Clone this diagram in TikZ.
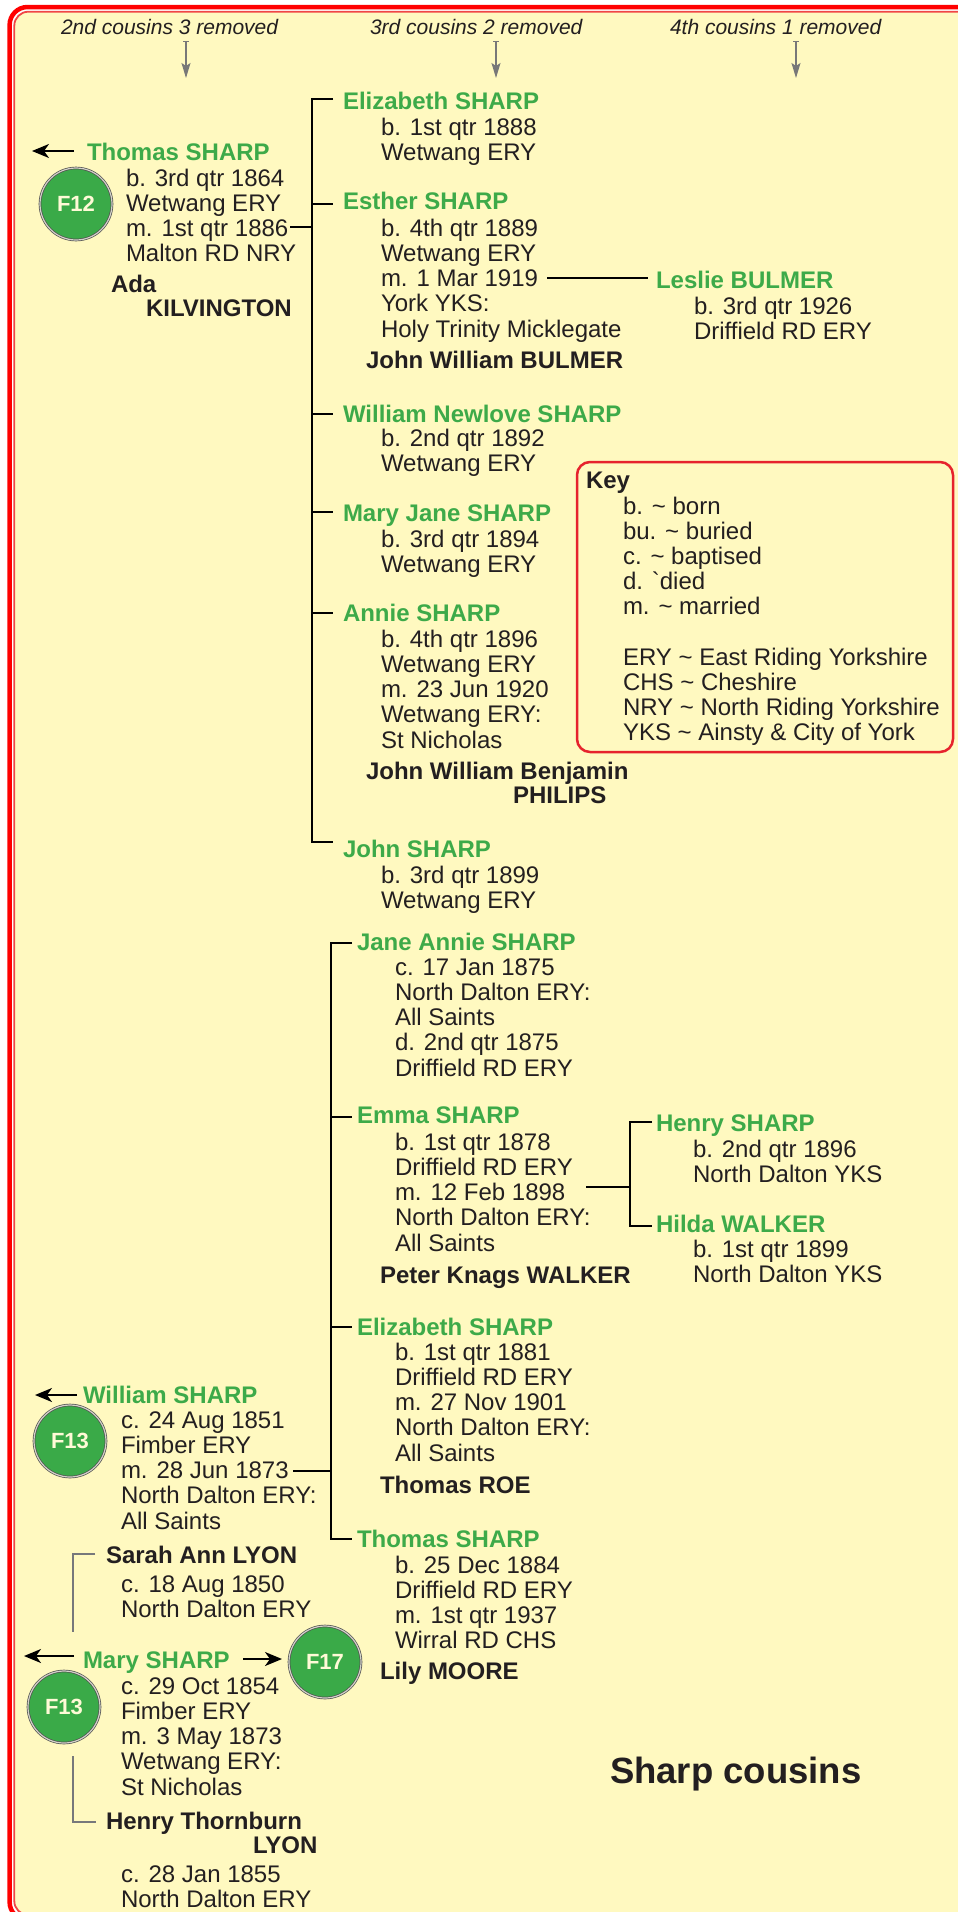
\documentclass[tikz,border=0pt]{standalone}
\usepackage{fontspec}
\setmainfont{Liberation Sans}
\usetikzlibrary{arrows.meta}
\definecolor{bgyellow}{RGB}{255,249,192}
\definecolor{framered}{RGB}{255,0,0}
\definecolor{framered2}{RGB}{240,70,70}
\definecolor{keyred}{RGB}{230,35,45}
\definecolor{namegreen}{RGB}{61,170,73}
\definecolor{circgreen}{RGB}{58,170,72}
\definecolor{circtext}{RGB}{255,250,215}
\definecolor{darktext}{RGB}{35,31,32}
\definecolor{hdrgray}{RGB}{120,120,120}
\definecolor{brgray}{RGB}{119,120,123}
\definecolor{ringgray}{RGB}{80,80,80}
\definecolor{ringlight}{RGB}{210,210,200}
\newcommand{\txtrows}[1]{\begin{tabular}[t]{@{}l@{}}#1\end{tabular}}
\begin{document}
\begin{tikzpicture}[x=1pt,y=-1pt,
  every node/.style={inner sep=0pt, outer sep=0pt, anchor=base west, text=darktext, font=\fontsize{24}{25.3}\selectfont},
  pname/.style={font=\bfseries\fontsize{24}{25.3}\selectfont, text=namegreen},
  spouse/.style={font=\bfseries\fontsize{24}{24}\selectfont, text=darktext},
  hdr/.style={font=\itshape\fontsize{21}{24}\selectfont, text=darktext},
  conn/.style={line width=2.6pt, black},
  brk/.style={line width=2pt, brgray},
  parr/.style={line width=1.9pt, black, -{Stealth[length=17pt,width=14pt,inset=5pt]}},
  harr/.style={line width=1.1pt, hdrgray, {Bar[width=6pt,line width=1.1pt]}-{Stealth[length=15pt,width=9pt,inset=3pt]}},
  fcirc/.style={circle, anchor=center, fill=circgreen, draw=ringgray, line width=0.7pt, double=ringlight, double distance=1.2pt, minimum size=72pt, text=circtext, font=\bfseries\fontsize{22}{22}\selectfont},
  keybox/.style={draw=keyred, line width=2.5pt, rounded corners=13pt, anchor=north west, minimum width=376pt, minimum height=290pt}
]
\useasboundingbox (0,0) rectangle (958,1912);
\fill[white] (0,0) rectangle (958,1912);
\begin{scope}
\clip (0,0) rectangle (958,1912);
\fill[bgyellow, rounded corners=14pt] (14.3,11.7) rectangle (975,1915);
\draw[framered, line width=4.5pt, rounded corners=18pt] (9.6,7) rectangle (980,1920);
\draw[framered2, line width=1.8pt, rounded corners=14pt] (14.3,11.7) rectangle (975,1915);
\end{scope}

% headers
\node[hdr] (h1) at (61,34.5) {2nd cousins 3 removed};
\node[hdr] (h2) at (370,34.5) {3rd cousins 2 removed};
\node[hdr] (h3) at (670,34.5) {4th cousins 1 removed};
\coordinate (h1s) at (186,41); \coordinate (h1e) at (186,78);
\coordinate (h2s) at (496,41); \coordinate (h2e) at (496,78);
\coordinate (h3s) at (796,41); \coordinate (h3e) at (796,78);
\draw[harr] (h1s) -- (h1e);
\draw[harr] (h2s) -- (h2e);
\draw[harr] (h3s) -- (h3e);

% ---------- Family 1: Thomas SHARP ----------
\node[pname] (thomas) at (87,160) {Thomas SHARP};
\coordinate (thA) at (74,151); \coordinate (thB) at (32,151);
\draw[parr] (thA) -- (thB);
\node[fcirc] (f12) at (76,204) {F12};
\node (thomasd) at (126,186) {\txtrows{b. 3rd qtr 1864\\Wetwang ERY\\m. 1st qtr 1886\\Malton RD NRY}};
\node[spouse] (ada) at (111,292) {\txtrows{Ada\\\hspace*{35pt}KILVINGTON}};

\coordinate (m1a) at (290,227); \coordinate (m1b) at (312,227);
\draw[conn] (m1a) -- (m1b);
\coordinate (v1top) at (312,99); \coordinate (v1bot) at (312,842);
\coordinate (t1a) at (333,99); \coordinate (t1f) at (333,842);
\draw[conn] (t1a) -- (v1top) -- (v1bot) -- (t1f);
\coordinate (v1b) at (312,204); \coordinate (t1b) at (333,204);
\coordinate (v1c) at (312,414); \coordinate (t1c) at (333,414);
\coordinate (v1d) at (312,512); \coordinate (t1d) at (333,512);
\coordinate (v1e) at (312,613); \coordinate (t1e) at (333,613);
\draw[conn] (v1b) -- (t1b);
\draw[conn] (v1c) -- (t1c);
\draw[conn] (v1d) -- (t1d);
\draw[conn] (v1e) -- (t1e);

\node[pname] (eliz1) at (343,109) {Elizabeth SHARP};
\node (eliz1d) at (381,135) {\txtrows{b. 1st qtr 1888\\Wetwang ERY}};

\node[pname] (esther) at (343,209) {Esther SHARP};
\node (estherd) at (381,236) {\txtrows{b. 4th qtr 1889\\Wetwang ERY\\m. 1 Mar 1919\\York YKS:\\Holy Trinity Micklegate}};
\node[spouse] (jwbulmer) at (366,368) {John William BULMER};
\coordinate (m2a) at (547,278); \coordinate (m2b) at (648,278);
\draw[conn] (m2a) -- (m2b);
\node[pname] (leslie) at (656,288) {Leslie BULMER};
\node (leslied) at (694,314) {\txtrows{b. 3rd qtr 1926\\Driffield RD ERY}};

\node[pname] (wnewlove) at (343,422) {William Newlove SHARP};
\node (wnewloved) at (381,446) {\txtrows{b. 2nd qtr 1892\\Wetwang ERY}};

\node[pname] (maryjane) at (343,521) {Mary Jane SHARP};
\node (maryjaned) at (381,547) {\txtrows{b. 3rd qtr 1894\\Wetwang ERY}};

\node[pname] (annie) at (343,621) {Annie SHARP};
\node (annied) at (381,647) {\txtrows{b. 4th qtr 1896\\Wetwang ERY\\m. 23 Jun 1920\\Wetwang ERY:\\St Nicholas}};
\node[spouse] (philips) at (366,779.5) {\txtrows{John William Benjamin\\\hspace*{147pt}PHILIPS}};

\node[pname] (john) at (343,857) {John SHARP};
\node (johnd) at (381,883) {\txtrows{b. 3rd qtr 1899\\Wetwang ERY}};

% ---------- Key ----------
\node[keybox] (key) at (577,462) {};
\node[font=\bfseries\fontsize{24}{25.2}\selectfont] (keyt) at (586,488) {Key};
\node[font=\fontsize{24}{25.2}\selectfont] (keyd) at (623,514) {\txtrows{b. \textasciitilde{} born\\bu. \textasciitilde{} buried\\c. \textasciitilde{} baptised\\d. \textasciigrave died\\m. \textasciitilde{} married\\\mbox{}\\ERY \textasciitilde{} East Riding Yorkshire\\CHS \textasciitilde{} Cheshire\\NRY \textasciitilde{} North Riding Yorkshire\\YKS \textasciitilde{} Ainsty \& City of York}};

% ---------- Family 2: William SHARP ----------
\node[pname] (william) at (83,1403) {William SHARP};
\coordinate (wA) at (77,1395); \coordinate (wB) at (35,1395);
\draw[parr] (wA) -- (wB);
\node[fcirc] (f13a) at (70,1441) {F13};
\node (williamd) at (121,1428) {\txtrows{c. 24 Aug 1851\\Fimber ERY\\m. 28 Jun 1873\\North Dalton ERY:\\All Saints}};
\coordinate (m3a) at (293,1471); \coordinate (m3b) at (331,1471);
\draw[conn] (m3a) -- (m3b);

\coordinate (v2top) at (331,943); \coordinate (v2bot) at (331,1539);
\coordinate (t2a) at (352,943); \coordinate (t2d) at (352,1539);
\draw[conn] (t2a) -- (v2top) -- (v2bot) -- (t2d);
\coordinate (v2b) at (331,1117); \coordinate (t2b) at (352,1117);
\coordinate (v2c) at (331,1327); \coordinate (t2c) at (352,1327);
\draw[conn] (v2b) -- (t2b);
\draw[conn] (v2c) -- (t2c);

\node[pname] (janeannie) at (357,950) {Jane Annie SHARP};
\node (janeannied) at (395,975) {\txtrows{c. 17 Jan 1875\\North Dalton ERY:\\All Saints\\d. 2nd qtr 1875\\Driffield RD ERY}};

\node[pname] (emma) at (357,1123) {Emma SHARP};
\node (emmad) at (395,1150) {\txtrows{b. 1st qtr 1878\\Driffield RD ERY\\m. 12 Feb 1898\\North Dalton ERY:\\All Saints}};
\node[spouse] (peter) at (380,1283) {Peter Knags WALKER};
\coordinate (m4a) at (586,1187); \coordinate (m4b) at (630,1187);
\draw[conn] (m4a) -- (m4b);
\coordinate (v3top) at (630,1122); \coordinate (v3bot) at (630,1226);
\coordinate (t3a) at (652,1122); \coordinate (t3b) at (652,1226);
\draw[conn] (t3a) -- (v3top) -- (v3bot) -- (t3b);
\node[pname] (henry) at (656,1131) {Henry SHARP};
\node (henryd) at (693,1157) {\txtrows{b. 2nd qtr 1896\\North Dalton YKS}};
\node[pname] (hilda) at (656,1232) {Hilda WALKER};
\node (hildad) at (693,1257) {\txtrows{b. 1st qtr 1899\\North Dalton YKS}};

\node[pname] (eliz2) at (357,1335) {Elizabeth SHARP};
\node (eliz2d) at (395,1360) {\txtrows{b. 1st qtr 1881\\Driffield RD ERY\\m. 27 Nov 1901\\North Dalton ERY:\\All Saints}};
\node[spouse] (roe) at (380,1493) {Thomas ROE};

\node[pname] (thomas2) at (357,1547) {Thomas SHARP};
\node (thomas2d) at (395,1573) {\txtrows{b. 25 Dec 1884\\Driffield RD ERY\\m. 1st qtr 1937\\Wirral RD CHS}};
\node[spouse] (lily) at (380,1679) {Lily MOORE};

% ---------- Mary SHARP and parents ----------
\node[spouse] (sarah) at (106,1563) {Sarah Ann LYON};
\node (sarahd) at (121,1592) {\txtrows{c. 18 Aug 1850\\North Dalton ERY}};
\coordinate (b1a) at (95,1554); \coordinate (b1b) at (73,1554); \coordinate (b1c) at (73,1632);
\draw[brk] (b1a) -- (b1b) -- (b1c);

\node[pname] (mary) at (83,1668) {Mary SHARP};
\coordinate (mA) at (74,1656); \coordinate (mB) at (24,1656);
\draw[parr] (mA) -- (mB);
\node[fcirc] (f17) at (325,1662) {F17};
\coordinate (mC) at (243,1659); \coordinate (mD) at (282,1659);
\draw[parr] (mC) -- (mD);
\node[fcirc] (f13b) at (64,1707) {F13};
\node (maryd) at (121,1694) {\txtrows{c. 29 Oct 1854\\Fimber ERY\\m. 3 May 1873\\Wetwang ERY:\\St Nicholas}};
\coordinate (b2a) at (73,1756); \coordinate (b2b) at (73,1822); \coordinate (b2c) at (96,1822);
\draw[brk] (b2a) -- (b2b) -- (b2c);
\node[spouse] (henryt) at (106,1829) {\txtrows{Henry Thornburn\\\hspace*{147pt}LYON}};
\node (henrytd) at (121,1882.5) {\txtrows{c. 28 Jan 1855\\North Dalton ERY}};

% title
\node[font=\bfseries\fontsize{36.5}{40}\selectfont] (title) at (610,1783) {Sharp cousins};
\end{tikzpicture}
\end{document}
